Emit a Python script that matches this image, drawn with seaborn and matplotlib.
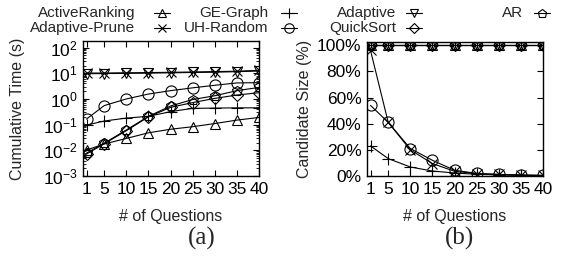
import matplotlib
matplotlib.use("Agg")
import matplotlib.pyplot as plt
from matplotlib.lines import Line2D
from matplotlib.ticker import PercentFormatter, LogLocator, NullFormatter
import seaborn as sns

# ── Data ──────────────────────────────────────────────────────────────────────

questions = [1, 5, 10, 15, 20, 25, 30, 35, 40]
x_ticks = [1, 5, 10, 15, 20, 25, 30, 35, 40]

series_names = ["ActiveRanking", "Adaptive-Prune", "GE-Graph", "UH-Random",
                "Adaptive", "QuickSort", "AR"]

# (a) cumulative time in seconds
time_active_ranking = [0.0103, 0.0176, 0.029, 0.048, 0.066, 0.083, 0.11, 0.15, 0.19]
time_adaptive_prune = [10.2, 10.2, 10.4, 10.6, 10.9, 11.2, 11.6, 12.0, 13.0]
time_ge_graph       = [0.096, 0.138, 0.18, 0.21, 0.32, 0.43, 0.44, 0.45, 0.45]
time_uh_random      = [0.165, 0.55, 1.0, 1.55, 2.1, 2.7, 3.4, 4.2, 4.3]
time_adaptive       = [9.6, 9.7, 9.9, 10.1, 10.4, 10.7, 11.0, 11.5, 12.2]
time_quicksort      = [0.0072, 0.018, 0.058, 0.20, 0.47, 0.72, 1.05, 1.42, 1.75]
time_ar             = [0.0078, 0.019, 0.062, 0.21, 0.53, 0.95, 1.33, 2.1, 2.8]

# (b) candidate size in percent
size_active_ranking = [100, 100, 100, 100, 100, 100, 100, 100, 100]
size_adaptive_prune = [96, 41, 20, 9.5, 3.6, 1.8, 1.2, 0.6, 0.4]
size_ge_graph       = [23, 13.3, 6.9, 3.8, 2.3, 1.3, 0.8, 0.5, 0.3]
size_uh_random      = [54, 41, 21, 12, 4.4, 2.0, 1.2, 0.8, 0.5]
size_adaptive       = [100, 100, 100, 100, 100, 100, 100, 100, 100]
size_quicksort      = [100, 100, 100, 100, 100, 100, 100, 100, 100]
size_ar             = [100, 100, 100, 100, 100, 100, 100, 100, 100]

time_data = [time_active_ranking, time_adaptive_prune, time_ge_graph,
             time_uh_random, time_adaptive, time_quicksort, time_ar]
size_data = [size_active_ranking, size_adaptive_prune, size_ge_graph,
             size_uh_random, size_adaptive, size_quicksort, size_ar]

# ── Style ─────────────────────────────────────────────────────────────────────

sns.set_style("ticks")
plt.rcParams['font.family'] = ['Liberation Sans', 'DejaVu Sans']
plt.rcParams['mathtext.default'] = 'regular'

markers = ['^', 'x', '+', 'o', 'v', 'D', 'p']
msizes  = [7.5, 7.5, 9, 8, 7.5, 6, 7.5]
line_kw = dict(color='black', linewidth=0.8, markeredgewidth=0.8,
               markerfacecolor='none', markeredgecolor='black')

fig = plt.figure(figsize=(5.75, 2.57), dpi=100)
W, H = 575.0, 257.0
ax1 = fig.add_axes([83 / W, 1 - 176 / H, 176 / W, 135 / H])
ax2 = fig.add_axes([367 / W, 1 - 176 / H, 176 / W, 134 / H])


def style_axis(ax, ylabel_x):
    ax.tick_params(axis='both', which='both', direction='in', top=True,
                   right=True, colors='black', labelsize=12.5, pad=4)
    ax.tick_params(which='major', length=4, width=0.8)
    ax.tick_params(which='minor', length=2, width=0.6)
    for sp in ax.spines.values():
        sp.set_visible(True)
        sp.set_linewidth(1.0)
        sp.set_color('black')
    ax.set_xlim(0.2, 40)
    ax.set_xticks(x_ticks)
    ax.set_xlabel('# of Questions', fontsize=11.5)
    ax.xaxis.set_label_coords(0.5, -0.245)
    ax.yaxis.set_label_coords(ylabel_x, 0.5)


# ── (a) Cumulative time ──────────────────────────────────────────────────────

for vals, m, ms in zip(time_data, markers, msizes):
    sns.lineplot(x=questions, y=vals, ax=ax1, marker=m, markersize=ms, **line_kw)
ax1.set_yscale('log')
ax1.set_ylim(1e-3, 180)
ax1.set_yticks([1e-3, 1e-2, 1e-1, 1e0, 1e1, 1e2])
ax1.yaxis.set_minor_locator(LogLocator(base=10, subs=range(2, 10), numticks=20))
ax1.yaxis.set_minor_formatter(NullFormatter())
ax1.set_ylabel('Cumulative Time (s)', fontsize=11.5)
style_axis(ax1, -0.33)

# ── (b) Candidate size ───────────────────────────────────────────────────────

for vals, m, ms in zip(size_data, markers, msizes):
    sns.lineplot(x=questions, y=vals, ax=ax2, marker=m, markersize=ms, **line_kw)
ax2.set_ylim(0, 102.5)
ax2.set_yticks([0, 20, 40, 60, 80, 100])
ax2.yaxis.set_major_formatter(PercentFormatter(xmax=100, decimals=0))
ax2.set_ylabel('Candidate Size (%)', fontsize=11.5)
style_axis(ax2, -0.31)

# ── Shared key (gnuplot style: right-aligned text, then sample) ──────────────

key_text_right = [135, 135, 268, 268, 396, 396, 523]
key_sample_x   = [162, 162, 289, 289, 414, 414, 542]
key_row_y      = [12.7, 28.0, 12.7, 28.0, 12.7, 28.0, 12.7]
for name, m, ms, xt, xs, yr in zip(series_names, markers, msizes,
                                   key_text_right, key_sample_x, key_row_y):
    y = 1 - yr / H
    fig.text(xt / W, y, name, ha='right', va='center', fontsize=11)
    fig.add_artist(Line2D([(xs - 8) / W, xs / W, (xs + 8) / W], [y, y, y],
                          transform=fig.transFigure, marker=m,
                          markersize=ms * 0.85, markevery=[1], **line_kw))

fig.text(202 / W, 1 - 238 / H, '(a)', ha='center', va='center',
         fontsize=18, family='Liberation Serif')
fig.text(460 / W, 1 - 238 / H, '(b)', ha='center', va='center',
         fontsize=18, family='Liberation Serif')

fig.savefig('out.png', dpi=100)
